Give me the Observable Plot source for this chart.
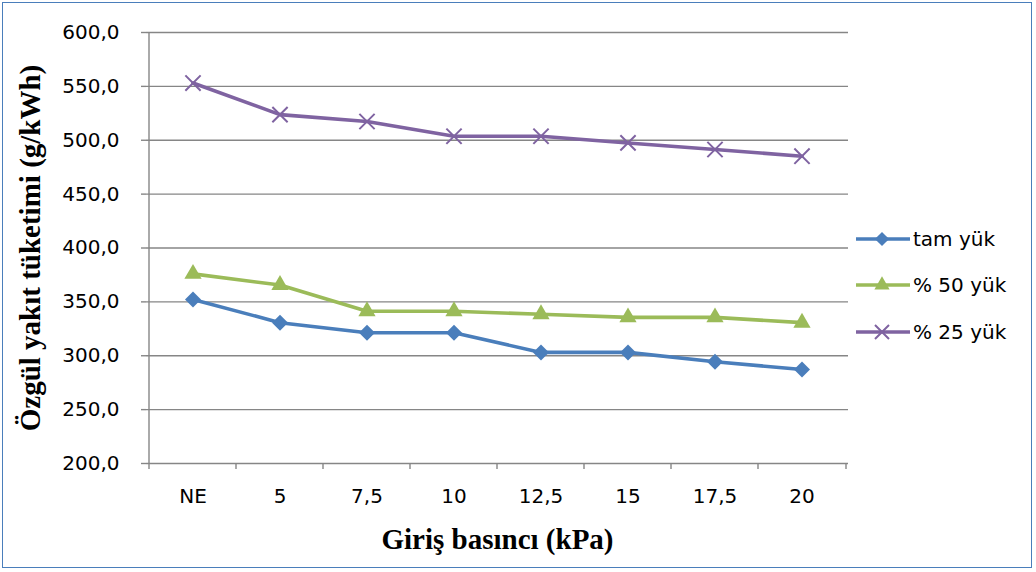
<!DOCTYPE html>
<html><head><meta charset="utf-8">
<script src="https://cdn.jsdelivr.net/npm/d3@7"></script>
<script src="https://cdn.jsdelivr.net/npm/@observablehq/plot@0.6"></script>
<style>
body{margin:0;background:#fff;}
#wrap{position:relative;width:1036px;height:572px;overflow:hidden;background:#fff;}
#border{position:absolute;left:2px;top:2px;width:1030px;height:566px;border:1.5px solid #4a7ebb;box-sizing:border-box;pointer-events:none;}
#chart{position:absolute;left:0;top:0;}
#legend{position:absolute;left:0;top:0;}
</style></head><body>
<div id="wrap"><div id="chart"></div><svg id="legend" width="1036" height="572"></svg><div id="border"></div></div>
<script>
const categories = ["NE","5","7,5","10","12,5","15","17,5","20"];
const seriesNames = ["tam yük","% 50 yük","% 25 yük"];
const tamYuk = [352.3,330.7,321.3,321.3,303.1,303.1,294.4,287.2];
const yuk50  = [376.0,365.6,341.3,341.3,338.5,335.6,335.6,330.7];
const yuk25  = [553.1,523.8,517.4,503.7,503.7,497.5,491.4,485.2];
const yTicks = [200,250,300,350,400,450,500,550,600];
const xTitle = "Giriş basıncı (kPa)";
const yTitle = "Özgül yakıt tüketimi (g/kWh)";
const colors = ["#4a7ebb","#9bbb59","#7f63a1"];

const seriesValues = [tamYuk, yuk50, yuk25];
const rows = seriesNames.map((s,i)=>categories.map((c,j)=>({series:s, cat:c, value:seriesValues[i][j]})));

const fmt = d3.formatLocale({decimal:",",thousands:".",grouping:[3],currency:["",""]}).format(".1f");
const gray = "#868686";
const sans = "'DejaVu Sans', sans-serif";
const serif = "'Liberation Serif', 'Times New Roman', serif";

const chart = Plot.plot({
  width:1036, height:572,
  marginLeft:146, marginRight:188, marginTop:32, marginBottom:109,
  style:{fontFamily:sans, fontSize:"20px", color:"#000", background:"transparent", overflow:"visible"},
  x:{type:"band", domain:categories, padding:0, align:0.5},
  y:{domain:[200,600]},
  marks:[
    Plot.gridY(yTicks,{stroke:gray, strokeOpacity:1, strokeWidth:1.4}),
    Plot.ruleX([0],{x:()=>categories[0], dx:-44, y1:200, y2:600, stroke:gray, strokeWidth:1.4}),
    Plot.axisY({ticks:yTicks, tickFormat:fmt, tickSize:5, tickPadding:22, stroke:gray, strokeWidth:1.4, label:null, fontSize:20, fill:"#000"}),
    Plot.axisX({tickSize:6, dx:-44, text:null, stroke:gray, strokeWidth:1.4, label:null}),
    Plot.axisX({ticks:[categories[categories.length-1]], tickSize:6, dx:44, text:null, stroke:gray, strokeWidth:1.4, label:null}),
    Plot.axisX({tickSize:0, tickPadding:25, label:null, fontSize:20, fill:"#000"}),
    ...rows.map((r,i)=>Plot.line(r,{x:"cat", y:"value", stroke:colors[i], strokeWidth:3.6, curve:"linear"})),
    Plot.dot(rows[0],{x:"cat", y:"value", symbol:"square", rotate:45, r:6.4, fill:colors[0], stroke:"none"}),
    Plot.dot(rows[1],{x:"cat", y:"value", symbol:"triangle", r:6.4, fill:colors[1], stroke:"none"}),
    Plot.dot(rows[2],{x:"cat", y:"value", symbol:"times", r:7, fill:"none", stroke:colors[2], strokeWidth:2}),
    Plot.text([xTitle],{frameAnchor:"bottom", dy:76, text:d=>d, fontFamily:serif, fontWeight:"bold", fontSize:29, textAnchor:"middle", lineAnchor:"middle", fill:"#000"}),
    Plot.text([yTitle],{frameAnchor:"left", dx:-116, rotate:-90, text:d=>d, fontFamily:serif, fontWeight:"bold", fontSize:29, textAnchor:"middle", lineAnchor:"middle", fill:"#000"})
  ]
});
document.getElementById("chart").appendChild(chart);

// legend
const lg = d3.select("#legend");
const legendY = [239, 285, 332];
const sym = [d3.symbolSquare, d3.symbolTriangle, d3.symbolTimes];
seriesNames.forEach((s,i)=>{
  const g = lg.append("g").attr("transform",`translate(0,${legendY[i]})`);
  g.append("line").attr("x1",856).attr("x2",910).attr("y1",0).attr("y2",0).attr("stroke",colors[i]).attr("stroke-width",3.6);
  const p = g.append("path").attr("d", d3.symbol(sym[i], i===0?100:i===1?100:130)())
    .attr("transform", `translate(882,0)${i===0?" rotate(45)":""}`);
  if(i===2) p.attr("fill","none").attr("stroke",colors[i]).attr("stroke-width",2);
  else p.attr("fill",colors[i]);
  g.append("text").attr("x",913).attr("y",0).attr("dy","0.35em").attr("font-family",sans).attr("font-size",20).attr("fill","#000").text(s);
});
</script>
</body></html>
